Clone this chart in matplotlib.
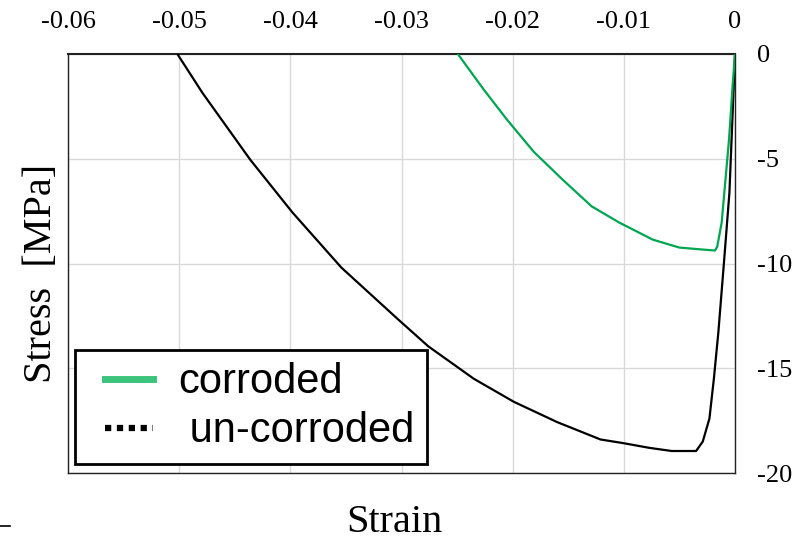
import matplotlib
matplotlib.use("Agg")
import matplotlib.pyplot as plt
import numpy as np
from matplotlib.lines import Line2D
from matplotlib.legend_handler import HandlerLine2D

plt.rcParams['axes.unicode_minus'] = False

# Data (strain, stress in MPa)
corroded_strain = [0.0, -0.0002, -0.00054, -0.0012, -0.0016, -0.0018, -0.0030, -0.0050,
                   -0.0074, -0.0104, -0.0129, -0.0155, -0.0181, -0.0205, -0.0226, -0.0250]
corroded_stress = [0.0, -1.4, -4.1, -8.05, -9.2, -9.38, -9.33, -9.24,
                   -8.86, -8.05, -7.27, -6.0, -4.67, -3.14, -1.7, 0.05]

uncorroded_strain = [0.0, -0.0005, -0.0010, -0.0015, -0.0019, -0.0023, -0.0029, -0.0035,
                     -0.0057, -0.0077, -0.0101, -0.0121, -0.0160, -0.0199, -0.0235,
                     -0.0276, -0.0303, -0.0354, -0.0398, -0.0436, -0.0479, -0.0501]
uncorroded_stress = [0.0, -6.6, -10.0, -13.3, -15.5, -17.4, -18.5, -18.95,
                     -18.95, -18.8, -18.57, -18.4, -17.57, -16.6, -15.5,
                     -13.95, -12.67, -10.2, -7.57, -5.05, -1.86, -0.05]

x_ticks = [-0.06, -0.05, -0.04, -0.03, -0.02, -0.01, 0.0]
x_labels = ["-0.06", "-0.05", "-0.04", "-0.03", "-0.02", "-0.01", "0"]
y_ticks = [0, -5, -10, -15, -20]
y_labels = ["0", "-5", "-10", "-15", "-20"]

serif = "Liberation Serif"
sans = "Liberation Sans"


class OffsetHandler(HandlerLine2D):
    """Legend line handle drawn only over the right part of the handle box."""
    def __init__(self, frac=0.27, **kw):
        super().__init__(**kw)
        self.frac = frac

    def get_xdata(self, legend, xdescent, ydescent, width, height, fontsize):
        xdata = np.array([-xdescent + self.frac * width, -xdescent + width])
        return xdata, np.array([-xdescent + 0.5 * width])


fig = plt.figure(figsize=(8.02, 5.42), dpi=100)
W, H = 802, 542
ax = fig.add_axes([68 / W, 1 - 473 / H, (735 - 68) / W, (473 - 54) / H])

ax.plot(uncorroded_strain, uncorroded_stress, color="black", lw=1.6, zorder=3)
ax.plot(corroded_strain, corroded_stress, color="#00a651", lw=1.6, zorder=3)

ax.set_xlim(-0.06, 0.0)
ax.set_ylim(-20, 0)
ax.xaxis.tick_top()
ax.yaxis.tick_right()
ax.set_xticks(x_ticks)
ax.set_xticklabels(x_labels, fontfamily=serif, fontsize=19)
ax.set_yticks(y_ticks)
ax.set_yticklabels(y_labels, fontfamily=serif, fontsize=19)
ax.tick_params(axis="x", length=0, pad=15)
ax.tick_params(axis="y", length=0, pad=16)
ax.grid(True, color="#d9d9d9", lw=1.0)
ax.set_axisbelow(True)
for s in ax.spines.values():
    s.set_color("#222222")
    s.set_linewidth(1.0)
ax.spines["top"].set_linewidth(1.5)

fig.text(42 / W, 1 - 273 / H, "Stress  [MPa]", rotation=90, ha="center", va="center",
         fontfamily=serif, fontsize=29)
fig.text(394 / W, 1 - 522 / H, "Strain", ha="center", va="center",
         fontfamily=serif, fontsize=29)

h1 = Line2D([], [], color="#3cc47c", lw=5)
h2 = Line2D([], [], color="black", lw=4.5, linestyle=(0, (1.0, 0.9)),
            dash_capstyle="butt")
leg = ax.legend([h1, h2], ["corroded", " un-corroded"], loc="lower left",
                bbox_to_anchor=(75 / W, 1 - 464 / H), bbox_transform=fig.transFigure,
                borderaxespad=0, prop={"family": sans, "size": 30},
                frameon=True, fancybox=False, edgecolor="black",
                handlelength=1.58, handletextpad=0.6, labelspacing=0.22,
                borderpad=0.3,
                handler_map={h1: OffsetHandler(), h2: OffsetHandler()})
leg.get_frame().set_linewidth(2.0)
leg.get_frame().set_alpha(1)

# small artifact at bottom left
fig.add_artist(Line2D([0 / W, 10 / W], [1 - 526 / H, 1 - 526 / H], color="black", lw=1.2,
                      transform=fig.transFigure))

fig.savefig("out.png", dpi=100)
